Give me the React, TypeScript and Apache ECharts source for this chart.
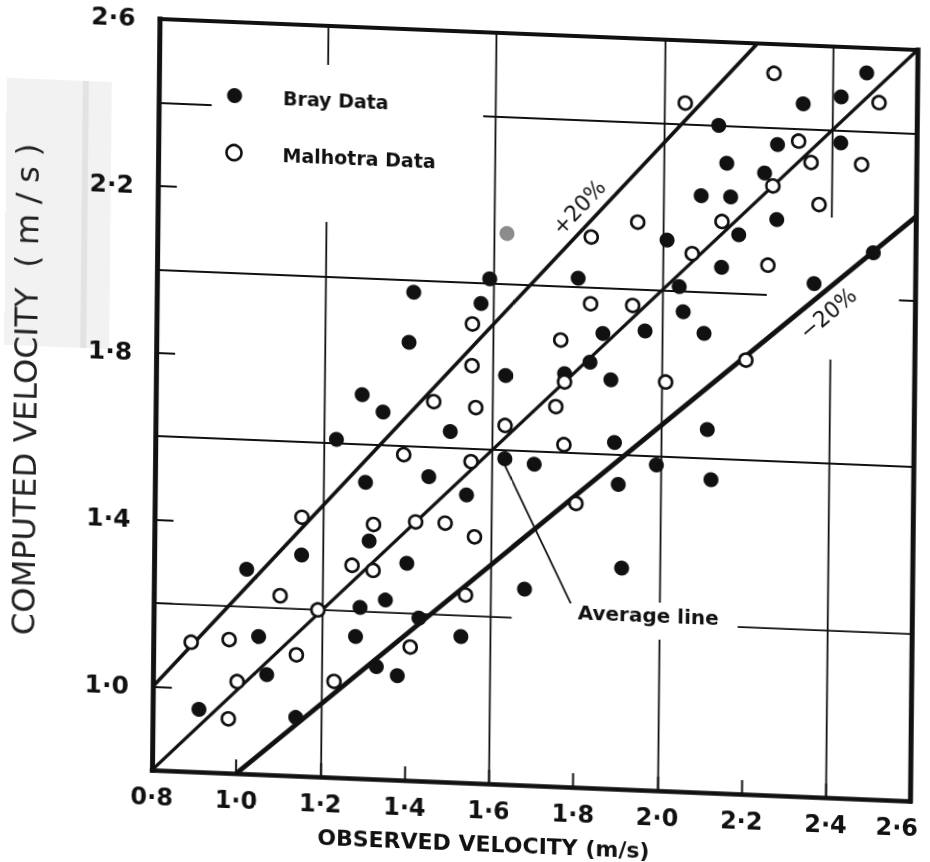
import React, { useEffect, useRef } from 'react';
import * as echarts from 'echarts';

// Axis range and labels
const axisMin = 0.8;
const axisMax = 2.6;
const tickStep = 0.2;
const gridStep = 0.4;
const yLabelValues = [1.0, 1.4, 1.8, 2.2, 2.6];

// Bray data (filled circles): [observed, computed]
const brayData = [
  [1.59, 2.01], [1.41, 1.97], [1.57, 1.95], [1.40, 1.85], [1.63, 1.78], [1.29, 1.72],
  [1.34, 1.68], [1.50, 1.64], [1.23, 1.61], [1.63, 1.58], [1.70, 1.57], [1.30, 1.51],
  [1.45, 1.53], [1.54, 1.49], [1.31, 1.37], [1.15, 1.33], [1.02, 1.29], [1.40, 1.32],
  [1.29, 1.21], [1.35, 1.23], [1.68, 1.27], [1.05, 1.13], [1.28, 1.14], [1.43, 1.19],
  [1.53, 1.15], [1.07, 1.04], [1.33, 1.07], [1.38, 1.05], [0.91, 0.95], [1.14, 0.94],
  [2.48, 2.54], [2.33, 2.46], [2.42, 2.48], [2.13, 2.40], [2.27, 2.36], [2.42, 2.37],
  [2.15, 2.31], [2.24, 2.29], [2.09, 2.23], [2.16, 2.23], [2.27, 2.18], [2.01, 2.12],
  [2.18, 2.14], [2.14, 2.06], [1.80, 2.02], [2.04, 2.01], [2.36, 2.03], [2.50, 2.11],
  [2.05, 1.95], [1.96, 1.90], [2.10, 1.90], [1.86, 1.89], [1.83, 1.82], [1.88, 1.78],
  [1.77, 1.79], [2.11, 1.67], [1.89, 1.63], [1.99, 1.58], [1.90, 1.53], [2.12, 1.55],
  [1.91, 1.33],
];

// Malhotra data (open circles): [observed, computed]
const malhotraData = [
  [2.26, 2.53], [2.51, 2.47], [2.05, 2.45], [2.32, 2.37], [2.35, 2.32], [2.47, 2.32],
  [2.26, 2.26], [1.94, 2.16], [1.83, 2.12], [2.14, 2.17], [2.37, 2.22], [2.07, 2.09],
  [2.25, 2.07], [1.83, 1.96], [1.93, 1.96], [1.76, 1.87], [1.77, 1.77], [2.01, 1.78],
  [2.20, 1.84], [1.75, 1.71], [1.77, 1.62], [1.80, 1.48], [1.55, 1.90], [1.55, 1.80],
  [1.46, 1.71], [1.56, 1.70], [1.63, 1.66], [1.39, 1.58], [1.55, 1.57], [1.15, 1.42],
  [1.32, 1.41], [1.42, 1.42], [1.49, 1.42], [1.56, 1.39], [1.27, 1.31], [1.32, 1.30],
  [1.10, 1.23], [1.19, 1.20], [1.54, 1.25], [0.89, 1.11], [0.98, 1.12], [1.14, 1.09],
  [1.41, 1.12], [1.00, 1.02], [1.23, 1.03], [0.98, 0.93],
];

// faint grey dot in the scan
const grayPoint = [[1.63, 2.12]];

// Reference lines
const averageLine = [[0.8, 0.8], [2.6, 2.6]];
const plusLine = [[0.8, 1.0], [2.22, 2.6]];
const minusLine = [[1.0, 0.8], [2.6, 2.2]];
const averagePointer = [[1.63, 1.565], [1.79, 1.24]];

const ink = '#111111';
const font = "'DejaVu Sans', 'Liberation Sans', sans-serif";
const fmt = (v: number) => v.toFixed(1).replace('.', '\u00b7');

export default function App() {
  const ref = useRef<HTMLDivElement>(null);

  useEffect(() => {
    if (!ref.current) return;
    const chart = echarts.init(ref.current, undefined, { renderer: 'svg' });

    const lineSeries = (name: string, data: number[][], width: number) => ({
      name,
      type: 'line',
      data,
      symbol: 'none',
      showSymbol: false,
      silent: true,
      z: 2,
      lineStyle: { color: ink, width },
      xAxisIndex: 0,
      yAxisIndex: 0,
    });

    chart.setOption({
      animation: false,
      backgroundColor: 'transparent',
      grid: { left: 152, right: 20, top: 19, bottom: 92, containLabel: false, outerBoundsMode: 'none' },
      legend: {
        orient: 'vertical',
        left: 205,
        top: 58,
        padding: [25, 47, 56, 14],
        backgroundColor: '#ffffff',
        itemWidth: 15,
        itemHeight: 15,
        itemGap: 38,
        icon: 'circle',
        selectedMode: false,
        textStyle: { fontFamily: font, fontWeight: 'bold', fontSize: 19, color: ink, padding: [0, 0, 0, 36] },
        data: [
          { name: 'Bray Data', itemStyle: { color: ink } },
          { name: 'Malhotra Data', itemStyle: { color: '#ffffff', borderColor: ink, borderWidth: 2.6 } },
        ],
      },
      xAxis: [
        {
          type: 'value', min: axisMin, max: axisMax, interval: tickStep, position: 'bottom',
          axisLine: { onZero: false, lineStyle: { color: ink, width: 4.5, cap: 'square' } },
          axisTick: { inside: true, length: 14, lineStyle: { color: ink, width: 2 } },
          axisLabel: {
            margin: 15, fontFamily: font, fontWeight: 'bold', fontSize: 24, color: ink,
            showMinLabel: true, showMaxLabel: true,
            formatter: (v: number) => (Math.abs(v - axisMax) < 1e-6 ? `{r|${fmt(v)}}` : fmt(v)),
            rich: {
              r: { fontFamily: font, fontWeight: 'bold', fontSize: 24, color: ink, padding: [0, 26, 0, 0] },
            },
          },
          splitLine: { show: false },
        },
        {
          type: 'value', min: axisMin, max: axisMax, interval: gridStep, position: 'top',
          axisLine: { onZero: false, lineStyle: { color: ink, width: 4, cap: 'square' } },
          axisTick: { show: false },
          axisLabel: { show: false },
          splitLine: { show: true, lineStyle: { color: ink, width: 1.8 } },
        },
      ],
      yAxis: [
        {
          type: 'value', min: axisMin, max: axisMax, interval: tickStep, position: 'left',
          name: 'COMPUTED VELOCITY  ( m / s )',
          nameLocation: 'middle',
          nameGap: 114,
          nameMoveOverlap: false,
          nameTextStyle: { fontFamily: font, fontSize: 32, color: '#222222' },
          axisLine: { onZero: false, lineStyle: { color: ink, width: 5, cap: 'square' } },
          axisTick: { inside: true, length: 19, lineStyle: { color: ink, width: 2 } },
          axisLabel: {
            margin: 24, fontFamily: font, fontWeight: 'bold', fontSize: 25, color: ink,
            showMinLabel: true, showMaxLabel: true,
            formatter: (v: number) =>
              yLabelValues.some((t) => Math.abs(t - v) < 1e-6) ? fmt(v) : '',
          },
          splitLine: { show: false },
        },
        {
          type: 'value', min: axisMin, max: axisMax, interval: gridStep, position: 'right',
          axisLine: { onZero: false, lineStyle: { color: ink, width: 5, cap: 'square' } },
          axisTick: { show: false },
          axisLabel: { show: false },
          splitLine: { show: true, lineStyle: { color: ink, width: 1.8 } },
        },
      ],
      graphic: {
        elements: [
          { type: 'rect', z: -10, silent: true, shape: { x: 0, y: 84, width: 105, height: 267 }, style: { fill: '#f2f2f2' } },
          { type: 'rect', z: -9, silent: true, shape: { x: 76, y: 84, width: 6, height: 267 }, style: { fill: '#e3e3e3' } },
          { type: 'rect', z: 1, silent: true, shape: { x: 510, y: 582, width: 226, height: 37 }, style: { fill: '#ffffff' } },
          {
            type: 'text', z: 1, silent: true, x: 576, y: 595,
            style: { text: 'Average line', font: `bold 20px ${font}`, fill: ink, verticalAlign: 'middle', align: 'left' },
          },
          { type: 'rect', z: 1, silent: true, shape: { x: 762, y: 190, width: 132, height: 142 }, style: { fill: '#ffffff' } },
          {
            type: 'text', z: 1, silent: true, x: 823, y: 286, rotation: 0.731,
            style: { text: '\u221220%', font: `22px ${font}`, fill: ink, verticalAlign: 'middle', align: 'center' },
          },
          {
            type: 'text', z: 1, silent: true, x: 573, y: 190, rotation: 0.838,
            style: { text: '+20%', font: `22px ${font}`, fill: ink, verticalAlign: 'middle', align: 'center' },
          },
          {
            type: 'text', z: 1, silent: true, x: 484, y: 830,
            style: { text: 'OBSERVED VELOCITY (m/s)', font: `bold 22px ${font}`, fill: ink, verticalAlign: 'middle', align: 'center' },
          },
        ],
      },
      series: [
        lineSeries('Average line', averageLine, 3.2),
        lineSeries('+20%', plusLine, 3.6),
        lineSeries('-20%', minusLine, 4.8),
        lineSeries('Average pointer', averagePointer, 1.8),
        {
          name: 'Bray Data', type: 'scatter', data: brayData, symbol: 'circle', symbolSize: 15, z: 3,
          itemStyle: { color: ink, opacity: 1 }, silent: true,
        },
        {
          name: 'Malhotra Data', type: 'scatter', data: malhotraData, symbol: 'circle', symbolSize: 13, z: 3,
          itemStyle: { color: '#ffffff', borderColor: ink, borderWidth: 2.6, opacity: 1 }, silent: true,
        },
        {
          name: 'scan mark', type: 'scatter', data: grayPoint, symbol: 'circle', symbolSize: 15, z: 3,
          itemStyle: { color: '#8c8c8c', opacity: 1 }, silent: true,
        },
      ],
    });

    return () => chart.dispose();
  }, []);

  return (
    <div
      ref={ref}
      style={{
        position: 'fixed',
        left: 0,
        top: 0,
        width: 930,
        height: 862,
        background: '#ffffff',
        transformOrigin: '152px 770px',
        transform: 'matrix(1, 0.0409, -0.0100, 1, 0, 0)',
      }}
    />
  );
}
